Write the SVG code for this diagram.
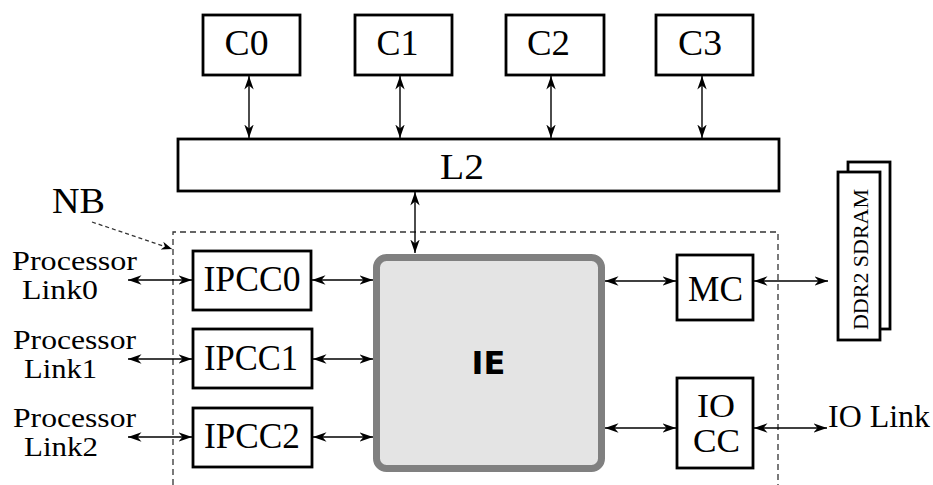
<svg xmlns="http://www.w3.org/2000/svg" width="933" height="485" viewBox="0 0 933 485">
<defs>
<marker id="ah" markerUnits="userSpaceOnUse" markerWidth="14" markerHeight="11" viewBox="0 0 14 11" refX="13.5" refY="5.5" orient="auto-start-reverse">
<path d="M0,0.8 L13.5,5.5 L0,10.2 L4,5.5 z" fill="#000"/>
</marker>
<marker id="ahs" markerUnits="userSpaceOnUse" markerWidth="11" markerHeight="9" viewBox="0 0 11 9" refX="10.5" refY="4.5" orient="auto">
<path d="M0,0.5 L10.5,4.5 L0,8.5 L3,4.5 z" fill="#000"/>
</marker>
</defs>
<style>
.box{fill:#fff;stroke:#000;stroke-width:2.8}
.t{font-family:"Liberation Serif","Times New Roman",serif;fill:#000}
.c{stroke:#000;stroke-width:1.4;fill:none;marker-start:url(#ah);marker-end:url(#ah)}
.dash{fill:none;stroke:#333;stroke-width:1.3;stroke-dasharray:6 4}
</style>
<rect width="933" height="485" fill="#fff"/>

<g id="NB">
<path class="dash" d="M173,485 V232 H778 V485"/>
<text class="t" x="52" y="213" font-size="35" textLength="53" lengthAdjust="spacingAndGlyphs">NB</text>
<line x1="92" y1="222" x2="172" y2="249" stroke="#333" stroke-width="1.3" stroke-dasharray="4 3" marker-end="url(#ahs)"/>
</g>

<g id="C0"><rect class="box" x="203" y="15" width="97" height="60"/><text class="t" x="246.5" y="55" font-size="35" text-anchor="middle" textLength="44" lengthAdjust="spacingAndGlyphs">C0</text></g>
<g id="C1"><rect class="box" x="355" y="15" width="97" height="60"/><text class="t" x="397.5" y="55" font-size="35" text-anchor="middle" textLength="42" lengthAdjust="spacingAndGlyphs">C1</text></g>
<g id="C2"><rect class="box" x="506" y="15" width="98" height="60"/><text class="t" x="548.5" y="55" font-size="35" text-anchor="middle" textLength="43" lengthAdjust="spacingAndGlyphs">C2</text></g>
<g id="C3"><rect class="box" x="656" y="15" width="97" height="60"/><text class="t" x="700" y="55" font-size="35" text-anchor="middle" textLength="44" lengthAdjust="spacingAndGlyphs">C3</text></g>

<g id="L2"><rect class="box" x="178" y="139" width="601" height="52"/><text class="t" x="462" y="179" font-size="36" text-anchor="middle" textLength="44" lengthAdjust="spacingAndGlyphs">L2</text></g>

<g id="IPCC0"><rect class="box" x="193" y="251" width="118" height="59"/><text class="t" x="252" y="291" font-size="35" text-anchor="middle" textLength="97" lengthAdjust="spacingAndGlyphs">IPCC0</text></g>
<g id="IPCC1"><rect class="box" x="193" y="329" width="119" height="59"/><text class="t" x="251" y="370" font-size="35" text-anchor="middle" textLength="94" lengthAdjust="spacingAndGlyphs">IPCC1</text></g>
<g id="IPCC2"><rect class="box" x="193" y="408" width="119" height="59"/><text class="t" x="252" y="448" font-size="35" text-anchor="middle" textLength="96" lengthAdjust="spacingAndGlyphs">IPCC2</text></g>

<g id="IE">
<rect x="376.5" y="257.5" width="225" height="211" rx="10" fill="#e4e4e4" stroke="#808080" stroke-width="7"/>
<text x="488.5" y="374" font-family="'DejaVu Sans',sans-serif" font-weight="bold" font-size="32" text-anchor="middle">IE</text>
</g>

<g id="MC"><rect class="box" x="677" y="255" width="76" height="65"/><text class="t" x="715.5" y="301" font-size="35" text-anchor="middle" textLength="55" lengthAdjust="spacingAndGlyphs">MC</text></g>
<g id="IOCC"><rect class="box" x="677" y="378" width="76" height="90"/>
<text class="t" x="716" y="417" font-size="34" text-anchor="middle" textLength="38" lengthAdjust="spacingAndGlyphs">IO</text>
<text class="t" x="716.5" y="452" font-size="34" text-anchor="middle" textLength="47" lengthAdjust="spacingAndGlyphs">CC</text></g>

<g id="DDR2">
<rect class="box" x="848" y="162" width="42" height="167"/>
<rect class="box" x="838" y="172" width="42" height="168"/>
<text class="t" transform="translate(868,330) rotate(-90)" x="0" y="0" font-size="22" textLength="141" lengthAdjust="spacingAndGlyphs">DDR2 SDRAM</text>
</g>

<g id="labels">
<text class="t" x="12" y="270" font-size="27" textLength="125" lengthAdjust="spacingAndGlyphs">Processor</text>
<text class="t" x="22" y="299" font-size="27" textLength="76" lengthAdjust="spacingAndGlyphs">Link0</text>
<text class="t" x="13" y="349" font-size="27" textLength="123" lengthAdjust="spacingAndGlyphs">Processor</text>
<text class="t" x="24" y="378" font-size="27" textLength="73" lengthAdjust="spacingAndGlyphs">Link1</text>
<text class="t" x="13" y="427" font-size="27" textLength="123" lengthAdjust="spacingAndGlyphs">Processor</text>
<text class="t" x="24" y="456" font-size="27" textLength="74" lengthAdjust="spacingAndGlyphs">Link2</text>
<text class="t" x="828" y="427" font-size="31" textLength="102" lengthAdjust="spacingAndGlyphs">IO Link</text>
</g>

<g id="connectors">
<line class="c" x1="249" y1="76" x2="249" y2="138"/>
<line class="c" x1="400" y1="76" x2="400" y2="138"/>
<line class="c" x1="551" y1="76" x2="551" y2="138"/>
<line class="c" x1="702" y1="76" x2="702" y2="138"/>
<line class="c" x1="415" y1="192" x2="415" y2="253"/>
<line class="c" x1="128" y1="280" x2="192" y2="280"/>
<line class="c" x1="128" y1="359" x2="192" y2="359"/>
<line class="c" x1="128" y1="437" x2="192" y2="437"/>
<line class="c" x1="312" y1="280" x2="373" y2="280"/>
<line class="c" x1="313" y1="359" x2="373" y2="359"/>
<line class="c" x1="313" y1="437" x2="373" y2="437"/>
<line class="c" x1="605" y1="281" x2="676" y2="281"/>
<line class="c" x1="754" y1="281" x2="828" y2="281"/>
<line class="c" x1="605" y1="428" x2="676" y2="428"/>
<line class="c" x1="754" y1="428" x2="827" y2="428"/>
</g>
</svg>
